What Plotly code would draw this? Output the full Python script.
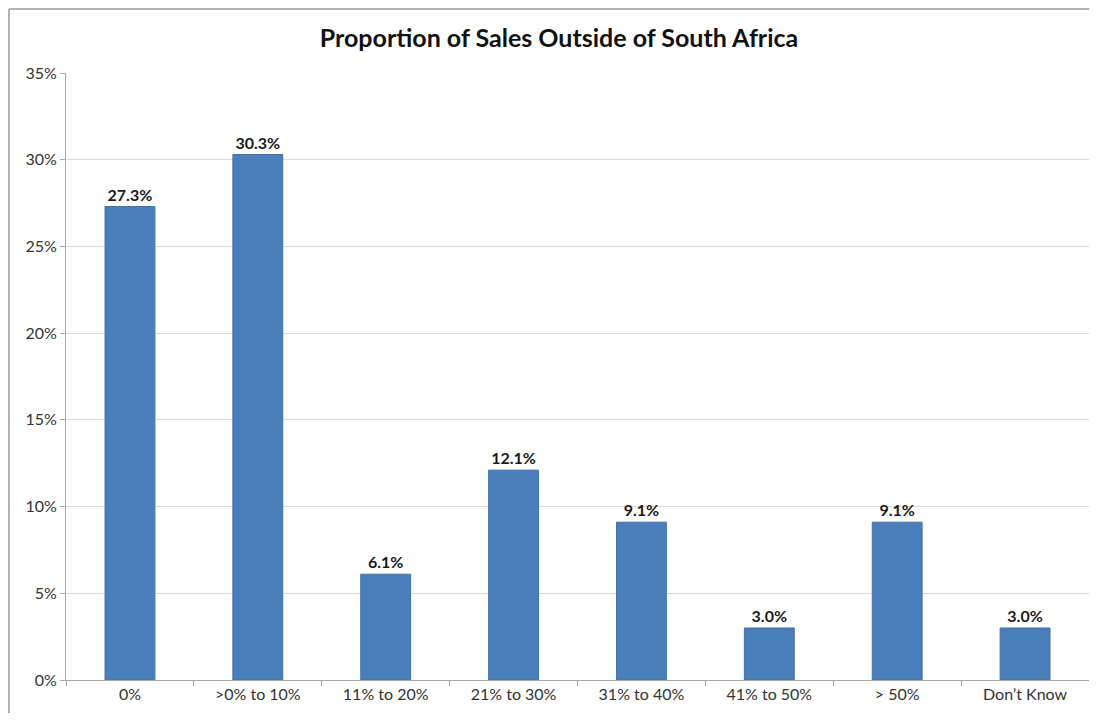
import plotly.graph_objects as go

categories = ["0%", ">0% to 10%", "11% to 20%", "21% to 30%", "31% to 40%",
              "41% to 50%", "> 50%", "Don\u2019t Know"]
values = [27.3, 30.3, 6.1, 12.1, 9.1, 3.0, 9.1, 3.0]
labels = [f"{v:.1f}%" for v in values]
tick_vals = [0, 5, 10, 15, 20, 25, 30, 35]
tick_text = [f"{t}%" for t in tick_vals]

FONT = "Lato, 'Open Sans', sans-serif"

# page body has an 8px margin on every side; figure sized to fit without scrolling
W, H = 1081, 705
L, R, T, B = 58, 0, 65, 33
PW, PH = W - L - R, H - T - B

fig = go.Figure(go.Bar(
    x=categories, y=values, width=0.39,
    marker=dict(color="#4A7EBB", line=dict(color="#3F72AF", width=1)),
    text=labels, textposition="outside", cliponaxis=False,
    textfont=dict(family=FONT, size=16, color="#1a1a1a", weight="bold"),
))

bx0 = -(L - 1) / PW
by1 = 1 + (T - 1) / PH
fig.update_layout(
    width=W, height=H,
    paper_bgcolor="white", plot_bgcolor="white",
    margin=dict(l=L, r=R, t=T, b=B, autoexpand=False),
    title=dict(text="<b>Proportion of Sales Outside of South Africa</b>",
               x=(559 - 8 - L) / PW, xref="paper", xanchor="center",
               y=1 - 30 / H, yanchor="middle",
               font=dict(family=FONT, size=25, color="#111111")),
    font=dict(family=FONT, size=16, color="#333333"),
    showlegend=False,
    shapes=[
        dict(type="line", xref="paper", yref="paper",
             x0=bx0, x1=1.01, y0=by1, y1=by1,
             line=dict(color="#999999", width=1.5)),
        dict(type="line", xref="paper", yref="paper",
             x0=bx0, x1=bx0, y0=-(B + 5) / PH, y1=by1,
             line=dict(color="#999999", width=1.5)),
    ],
)
fig.update_yaxes(range=[0, 35], tickvals=tick_vals, ticktext=tick_text,
                 showgrid=True, gridcolor="#D9D9D9", gridwidth=1,
                 showline=True, linecolor="#A6A6A6", linewidth=1,
                 ticks="outside", ticklen=5, tickcolor="#A6A6A6",
                 zeroline=False, tickfont=dict(size=16, color="#333333"))
fig.update_xaxes(showline=True, linecolor="#A6A6A6", linewidth=1,
                 ticks="outside", ticklen=5, tickcolor="#A6A6A6",
                 tickson="boundaries", showgrid=False,
                 tickfont=dict(size=16, color="#333333"))

fig.write_html("out.html")
